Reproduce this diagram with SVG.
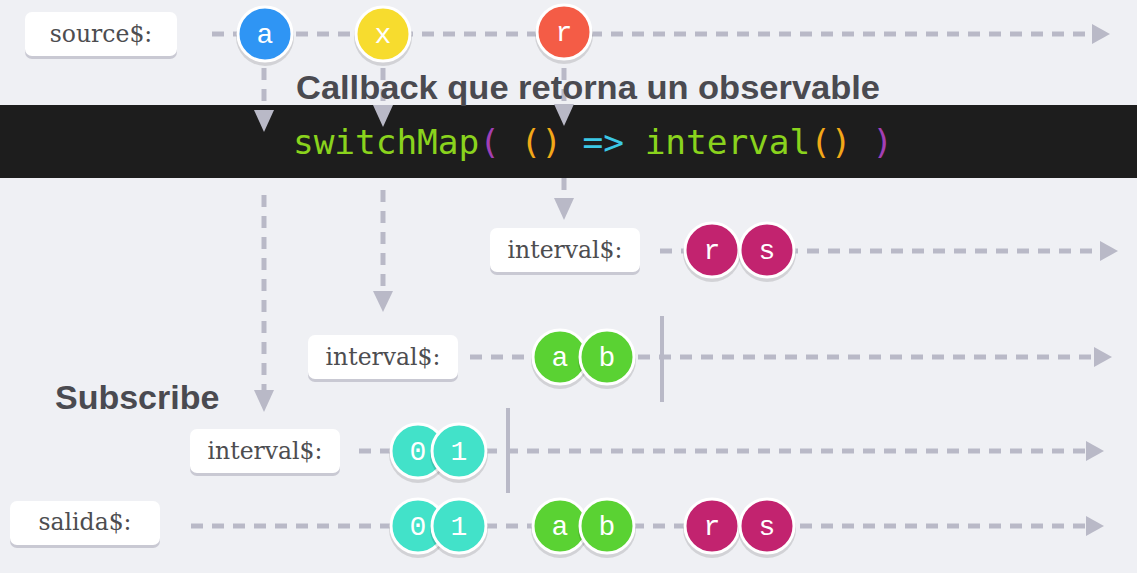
<svg xmlns="http://www.w3.org/2000/svg" width="1137" height="573" viewBox="0 0 1137 573">
<defs>
<style>
.bg{fill:#eff0f4}
.dash{stroke:#b9b9c7;stroke-width:5;stroke-dasharray:12 9;fill:none}
.head{fill:#b9b9c7}
.bar{stroke:#b9b9c7;stroke-width:4}
.lbl{fill:#ffffff}
.lblsh{fill:#c9c9d3}
.lt{font-family:"DejaVu Serif",serif;font-size:23.5px;fill:#4d4d50;text-anchor:middle}
.ct{font-family:"Liberation Mono","DejaVu Sans Mono",monospace;font-size:28px;fill:#ffffff;text-anchor:middle}
.csh{fill:#000000;fill-opacity:0.12}
.c{stroke:#ffffff;stroke-width:3}
.title{font-family:"Liberation Sans",Arial,sans-serif;font-weight:bold;font-size:34px;fill:#4a4a50}
.code{font-family:"DejaVu Sans Mono",monospace;font-size:34.5px}
</style>
</defs>
<rect class="bg" x="0" y="0" width="1137" height="573"/>
<rect x="0" y="105" width="1137" height="73" fill="#1d1d1d"/>

<g id="connectors">
  <line class="dash" x1="212" y1="34" x2="1092" y2="34"/>
  <polygon class="head" points="1092,24 1110,34 1092,44"/>
  <line class="dash" x1="660" y1="251" x2="1100" y2="251"/>
  <polygon class="head" points="1100,241 1118,251 1100,261"/>
  <line class="dash" x1="470" y1="357" x2="1094" y2="357"/>
  <polygon class="head" points="1094,347 1112,357 1094,367"/>
  <line class="dash" x1="359" y1="451" x2="1086" y2="451"/>
  <polygon class="head" points="1086,441 1104,451 1086,461"/>
  <line class="dash" x1="191" y1="526" x2="1086" y2="526"/>
  <polygon class="head" points="1086,516 1104,526 1086,536"/>
  <line class="dash" x1="264" y1="68" x2="264" y2="110"/>
  <polygon class="head" points="254,110 274,110 264,132"/>
  <line class="dash" x1="383" y1="68" x2="383" y2="105"/>
  <polygon class="head" points="373,105 393,105 383,127"/>
  <line class="dash" x1="564" y1="68" x2="564" y2="104"/>
  <polygon class="head" points="554,104 574,104 564,126"/>
  <line class="dash" x1="264" y1="195" x2="264" y2="390"/>
  <polygon class="head" points="254,390 274,390 264,412"/>
  <line class="dash" x1="383" y1="190" x2="383" y2="292"/>
  <polygon class="head" points="373,291 393,291 383,312"/>
  <line class="dash" x1="564" y1="178" x2="564" y2="198"/>
  <polygon class="head" points="554,198 574,198 564,220"/>
  <line class="bar" x1="662" y1="316" x2="662" y2="402"/>
  <line class="bar" x1="508" y1="408" x2="508" y2="493"/>
</g>

<g id="title-callback">
  <text class="title" x="296" y="99" textLength="584" lengthAdjust="spacingAndGlyphs">Callback que retorna un observable</text>
</g>
<g id="code">
  <text class="code" x="293" y="154" xml:space="preserve" textLength="600"><tspan fill="#8ad31d">switchMap</tspan><tspan fill="#a23fb5">(</tspan> <tspan fill="#f2a818">()</tspan> <tspan fill="#3cc8e6">=&gt;</tspan> <tspan fill="#8ad31d">interval</tspan><tspan fill="#f2a818">()</tspan> <tspan fill="#a23fb5">)</tspan></text>
</g>
<g id="title-subscribe">
  <text class="title" x="55" y="409">Subscribe</text>
</g>

<g id="label-source">
  <rect class="lblsh" x="25" y="15" width="152" height="44" rx="7"/>
  <rect class="lbl" x="25" y="12" width="152" height="44" rx="7"/>
  <text class="lt" x="101" y="42">source$:</text>
</g>
<g id="label-interval-r">
  <rect class="lblsh" x="490" y="231" width="150" height="44" rx="7"/>
  <rect class="lbl" x="490" y="228" width="150" height="44" rx="7"/>
  <text class="lt" x="565" y="258">interval$:</text>
</g>
<g id="label-interval-x">
  <rect class="lblsh" x="308" y="338" width="150" height="44" rx="7"/>
  <rect class="lbl" x="308" y="335" width="150" height="44" rx="7"/>
  <text class="lt" x="383" y="365">interval$:</text>
</g>
<g id="label-interval-a">
  <rect class="lblsh" x="190" y="432" width="150" height="44" rx="7"/>
  <rect class="lbl" x="190" y="429" width="150" height="44" rx="7"/>
  <text class="lt" x="265" y="459">interval$:</text>
</g>
<g id="label-salida">
  <rect class="lblsh" x="10" y="504" width="150" height="44" rx="7"/>
  <rect class="lbl" x="10" y="501" width="150" height="44" rx="7"/>
  <text class="lt" x="85" y="530">salida$:</text>
</g>

<g id="m-src-a"><circle class="csh" cx="265" cy="37" r="29"/><circle class="c" cx="265" cy="34" r="27" fill="#2f95f4"/><text class="ct" x="265" y="43">a</text></g>
<g id="m-src-x"><circle class="csh" cx="383" cy="37" r="29"/><circle class="c" cx="383" cy="34" r="27" fill="#f7dc2e"/><text class="ct" x="383" y="43">x</text></g>
<g id="m-src-r"><circle class="csh" cx="564" cy="35" r="29"/><circle class="c" cx="564" cy="32" r="27" fill="#f45c46"/><text class="ct" x="564" y="41">r</text></g>

<g id="m-ir-r"><circle class="csh" cx="712" cy="253" r="29"/><circle class="c" cx="712" cy="250" r="27" fill="#c2236f"/><text class="ct" x="712" y="259">r</text></g>
<g id="m-ir-s"><circle class="csh" cx="767" cy="253" r="29"/><circle class="c" cx="767" cy="250" r="27" fill="#c2236f"/><text class="ct" x="767" y="259">s</text></g>

<g id="m-ix-a"><circle class="csh" cx="560" cy="360" r="29"/><circle class="c" cx="560" cy="357" r="27" fill="#5ad233"/><text class="ct" x="560" y="366">a</text></g>
<g id="m-ix-b"><circle class="csh" cx="607" cy="360" r="29"/><circle class="c" cx="607" cy="357" r="27" fill="#5ad233"/><text class="ct" x="607" y="366">b</text></g>

<g id="m-ia-0"><circle class="csh" cx="418" cy="454" r="29"/><circle class="c" cx="418" cy="451" r="27" fill="#42e2c9"/><text class="ct" x="418" y="460">0</text></g>
<g id="m-ia-1"><circle class="csh" cx="459" cy="454" r="29"/><circle class="c" cx="459" cy="451" r="27" fill="#42e2c9"/><text class="ct" x="459" y="460">1</text></g>

<g id="m-out-0"><circle class="csh" cx="418" cy="529" r="29"/><circle class="c" cx="418" cy="526" r="27" fill="#42e2c9"/><text class="ct" x="418" y="535">0</text></g>
<g id="m-out-1"><circle class="csh" cx="459" cy="529" r="29"/><circle class="c" cx="459" cy="526" r="27" fill="#42e2c9"/><text class="ct" x="459" y="535">1</text></g>
<g id="m-out-a"><circle class="csh" cx="560" cy="529" r="29"/><circle class="c" cx="560" cy="526" r="27" fill="#5ad233"/><text class="ct" x="560" y="535">a</text></g>
<g id="m-out-b"><circle class="csh" cx="607" cy="529" r="29"/><circle class="c" cx="607" cy="526" r="27" fill="#5ad233"/><text class="ct" x="607" y="535">b</text></g>
<g id="m-out-r"><circle class="csh" cx="712" cy="529" r="29"/><circle class="c" cx="712" cy="526" r="27" fill="#c2236f"/><text class="ct" x="712" y="535">r</text></g>
<g id="m-out-s"><circle class="csh" cx="767" cy="529" r="29"/><circle class="c" cx="767" cy="526" r="27" fill="#c2236f"/><text class="ct" x="767" y="535">s</text></g>
</svg>
